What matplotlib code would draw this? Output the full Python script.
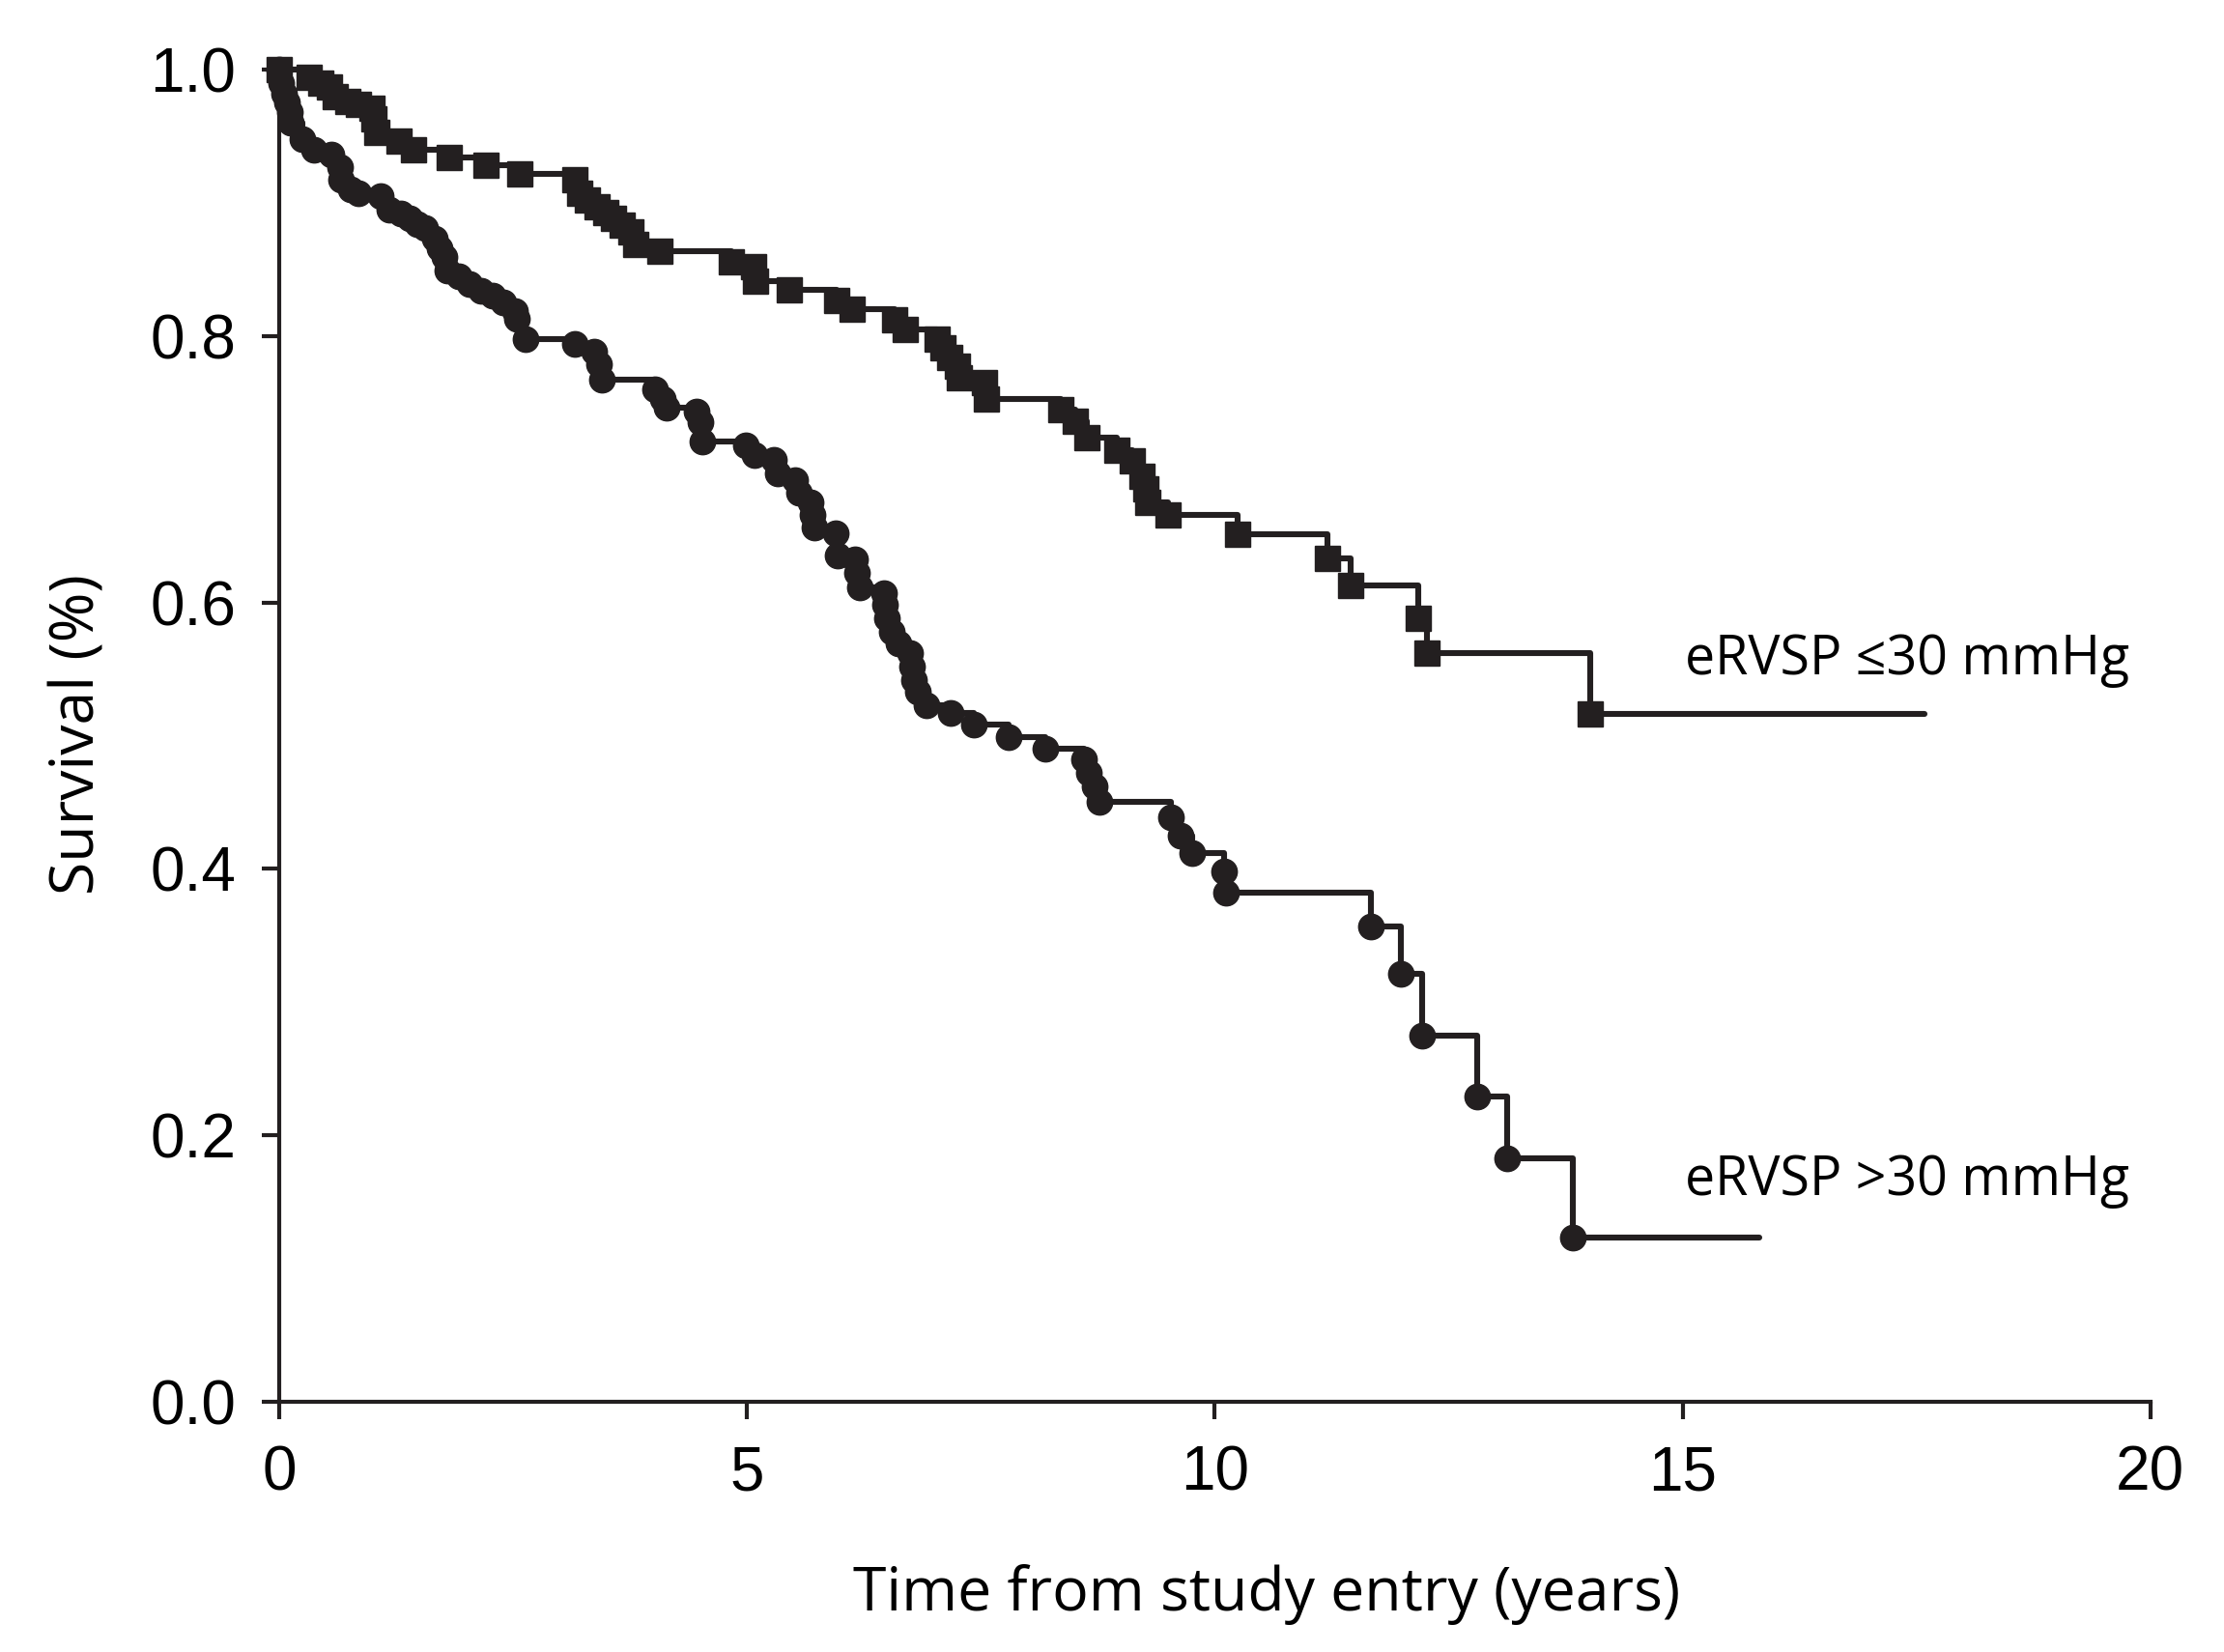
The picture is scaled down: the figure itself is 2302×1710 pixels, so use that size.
import numpy as np
import matplotlib
matplotlib.use("Agg")
import matplotlib.pyplot as plt
from matplotlib.ticker import FormatStrFormatter

# Kaplan-Meier estimates
# eRVSP <= 30 mmHg (squares)
t_low = [0.00, 0.32, 0.45, 0.54, 0.60, 0.73, 0.85, 0.99, 1.01, 1.04,
         1.28, 1.44, 1.82, 2.21, 2.57, 3.16, 3.21, 3.30, 3.40, 3.49,
         3.57, 3.67, 3.76, 3.81, 4.07, 4.83, 5.07, 5.09, 5.45, 5.96,
         6.12, 6.58, 6.69, 7.03, 7.09, 7.17, 7.25, 7.27, 7.54, 7.56,
         8.35, 8.51, 8.63, 8.95, 9.12, 9.22, 9.26, 9.28, 9.50, 10.24,
         11.20, 11.45, 12.17, 12.27, 14.01]
s_low = [1.000, 0.994, 0.990, 0.987, 0.980, 0.976, 0.974, 0.971, 0.963, 0.953,
         0.946, 0.940, 0.934, 0.928, 0.922, 0.917, 0.907, 0.902, 0.897, 0.893,
         0.888, 0.883, 0.878, 0.869, 0.864, 0.856, 0.852, 0.841, 0.835, 0.827,
         0.820, 0.812, 0.805, 0.798, 0.791, 0.784, 0.777, 0.769, 0.765, 0.753,
         0.745, 0.736, 0.724, 0.714, 0.706, 0.695, 0.685, 0.675, 0.666, 0.651,
         0.633, 0.613, 0.588, 0.562, 0.516]
end_low = 17.59

# eRVSP > 30 mmHg (circles)
t_high = [0.00, 0.02, 0.05, 0.08, 0.11, 0.13, 0.25, 0.37, 0.56, 0.65,
          0.66, 0.76, 0.85, 1.09, 1.18, 1.30, 1.39, 1.48, 1.56, 1.66,
          1.72, 1.77, 1.80, 1.92, 2.04, 2.16, 2.28, 2.40, 2.52, 2.54,
          2.63, 3.16, 3.37, 3.42, 3.45, 4.02, 4.10, 4.14, 4.46, 4.50,
          4.52, 4.99, 5.08, 5.29, 5.33, 5.52, 5.56, 5.68, 5.70, 5.72,
          5.95, 5.97, 6.16, 6.18, 6.21, 6.46, 6.48, 6.50, 6.55, 6.62,
          6.74, 6.76, 6.78, 6.83, 6.92, 7.18, 7.43, 7.80, 8.19, 8.60,
          8.65, 8.72, 8.77, 9.53, 9.63, 9.76, 10.10, 10.12, 11.67, 11.99,
          12.22, 12.81, 13.12, 13.83]
s_high = [1.000, 0.990, 0.982, 0.975, 0.968, 0.960, 0.948, 0.940, 0.936, 0.927,
          0.917, 0.910, 0.907, 0.905, 0.895, 0.892, 0.888, 0.884, 0.881, 0.873,
          0.866, 0.859, 0.849, 0.845, 0.839, 0.834, 0.830, 0.825, 0.819, 0.813,
          0.798, 0.794, 0.788, 0.779, 0.767, 0.760, 0.753, 0.746, 0.743, 0.735,
          0.721, 0.718, 0.711, 0.707, 0.697, 0.692, 0.682, 0.675, 0.666, 0.656,
          0.652, 0.635, 0.632, 0.622, 0.611, 0.607, 0.598, 0.588, 0.578, 0.569,
          0.562, 0.552, 0.542, 0.533, 0.523, 0.517, 0.508, 0.499, 0.490, 0.482,
          0.472, 0.462, 0.450, 0.439, 0.425, 0.412, 0.398, 0.382, 0.357, 0.321,
          0.275, 0.229, 0.183, 0.123]
end_high = 15.82

label_low = 'eRVSP \u226430 mmHg'
label_high = 'eRVSP >30 mmHg'

ink = '#231f20'
txt_font = ['Open Sans', 'DejaVu Sans']
tick_font = ['Liberation Sans', 'DejaVu Sans']

fig = plt.figure(figsize=(23.02, 17.10), dpi=100)
ax = fig.add_axes([0.1255, 0.1515, 0.8414, 0.8064])

for t, s, end, mk in [(t_low, s_low, end_low, 's'), (t_high, s_high, end_high, 'o')]:
    ax.step(t + [end], s + [s[-1]], where='post', color=ink, lw=4.4,
            solid_capstyle='round', clip_on=False, zorder=3)
    ax.plot(t, s, mk, color=ink, ms=19, mec=ink, clip_on=False, zorder=4)

ax.text(15.03, 0.546, label_low, family=txt_font, fontsize=40, color='black',
        ha='left', va='baseline')
ax.text(15.03, 0.155, label_high, family=txt_font, fontsize=40, color='black',
        ha='left', va='baseline')

ax.set_xlim(0, 20)
ax.set_ylim(0, 1)
ax.set_xticks([0, 5, 10, 15, 20])
ax.set_yticks([0.0, 0.2, 0.4, 0.6, 0.8, 1.0])
ax.yaxis.set_major_formatter(FormatStrFormatter('%.1f'))

for sp in ['top', 'right']:
    ax.spines[sp].set_visible(False)
for sp in ['left', 'bottom']:
    ax.spines[sp].set_linewidth(3.0)
    ax.spines[sp].set_color(ink)

ax.tick_params(axis='both', direction='out', length=13, width=3.0, color=ink,
               labelsize=46)
ax.tick_params(axis='x', pad=19)
ax.tick_params(axis='y', pad=19)
for lab in ax.get_xticklabels() + ax.get_yticklabels():
    lab.set_family(tick_font)

ax.set_xlabel('Time from study entry (years)', family=txt_font, fontsize=45)
ax.set_ylabel('Survival (%)', family=txt_font, fontsize=45)
ax.xaxis.set_label_coords(0.528, -0.145)
ax.xaxis.label.set_va('center')
ax.yaxis.set_label_coords(-0.107, 0.501)
ax.yaxis.label.set_va('center')

fig.savefig('out.png', dpi=100)
